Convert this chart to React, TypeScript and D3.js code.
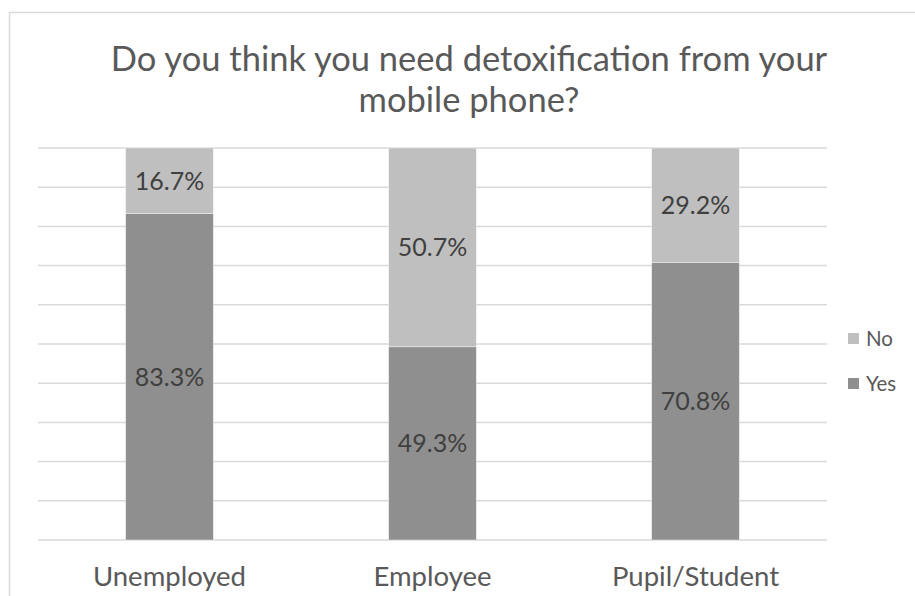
import React from "react";
import * as d3 from "d3";

const categories = ["Unemployed", "Employee", "Pupil/Student"];
const yesValues = [0.833, 0.493, 0.708];
const noValues = [0.167, 0.507, 0.292];
const yesLabels = ["83.3%", "49.3%", "70.8%"];
const noLabels = ["16.7%", "50.7%", "29.2%"];
const seriesNames = ["No", "Yes"];
const gridTicks = [0, 0.1, 0.2, 0.3, 0.4, 0.5, 0.6, 0.7, 0.8, 0.9, 1.0];
const titleLines = ["Do you think you need detoxification from your", "mobile phone?"];

const W = 915;
const H = 596;
const FONT = "Lato, 'Open Sans', sans-serif";
const TEXT = "#595959";
const YES_C = "#8f8f8f";
const NO_C = "#bfbfbf";

export default function App() {
  const x = d3
    .scaleBand<string>()
    .domain(categories)
    .range([38, 827])
    .paddingInner(2 / 3)
    .paddingOuter(1 / 3);
  const y = d3.scaleLinear().domain([0, 1]).range([540, 148]);
  const bw = x.bandwidth();

  return (
    <svg
      width={W}
      height={H}
      style={{ position: "absolute", left: 0, top: 0 }}
      fontFamily={FONT}
    >
      <rect x={0} y={0} width={W} height={H} fill="#fff" />
      <rect x={9.5} y={12.5} width={W + 20} height={H + 20} fill="#fff" stroke="#d9d9d9" strokeWidth={1.5} />
      {titleLines.map((t, i) => (
        <text key={t} x={469} y={71 + i * 41} textAnchor="middle" fontSize={34.5} fill={TEXT}>
          {t}
        </text>
      ))}
      {gridTicks.map((t) => (
        <line key={t} x1={38} x2={827} y1={y(t)} y2={y(t)} stroke="#d9d9d9" strokeWidth={1.5} />
      ))}
      {categories.map((c, i) => {
        const x0 = x(c) as number;
        const yesTop = y(yesValues[i]);
        const noTop = y(yesValues[i] + noValues[i]);
        return (
          <g key={c}>
            <rect x={x0} y={yesTop} width={bw} height={y(0) - yesTop} fill={YES_C} stroke="#fff" strokeOpacity={0.5} strokeWidth={0.75} />
            <rect x={x0} y={noTop} width={bw} height={yesTop - noTop} fill={NO_C} stroke="#fff" strokeOpacity={0.5} strokeWidth={0.75} />
            <text x={x0 + bw / 2} y={(yesTop + y(0)) / 2} dy="0.36em" textAnchor="middle" fontSize={25} fill="#404040">
              {yesLabels[i]}
            </text>
            <text x={x0 + bw / 2} y={(noTop + yesTop) / 2} dy="0.36em" textAnchor="middle" fontSize={25} fill="#404040">
              {noLabels[i]}
            </text>
            <text x={x0 + bw / 2} y={586} textAnchor="middle" fontSize={27.5} fill={TEXT}>
              {c}
            </text>
          </g>
        );
      })}
      {seriesNames.map((s, i) => (
        <g key={s}>
          <rect x={848} y={333 + i * 45} width={11} height={11} fill={s === "No" ? NO_C : YES_C} />
          <text x={866} y={339 + i * 45} dy="0.36em" fontSize={20.5} fill={TEXT}>
            {s}
          </text>
        </g>
      ))}
    </svg>
  );
}
